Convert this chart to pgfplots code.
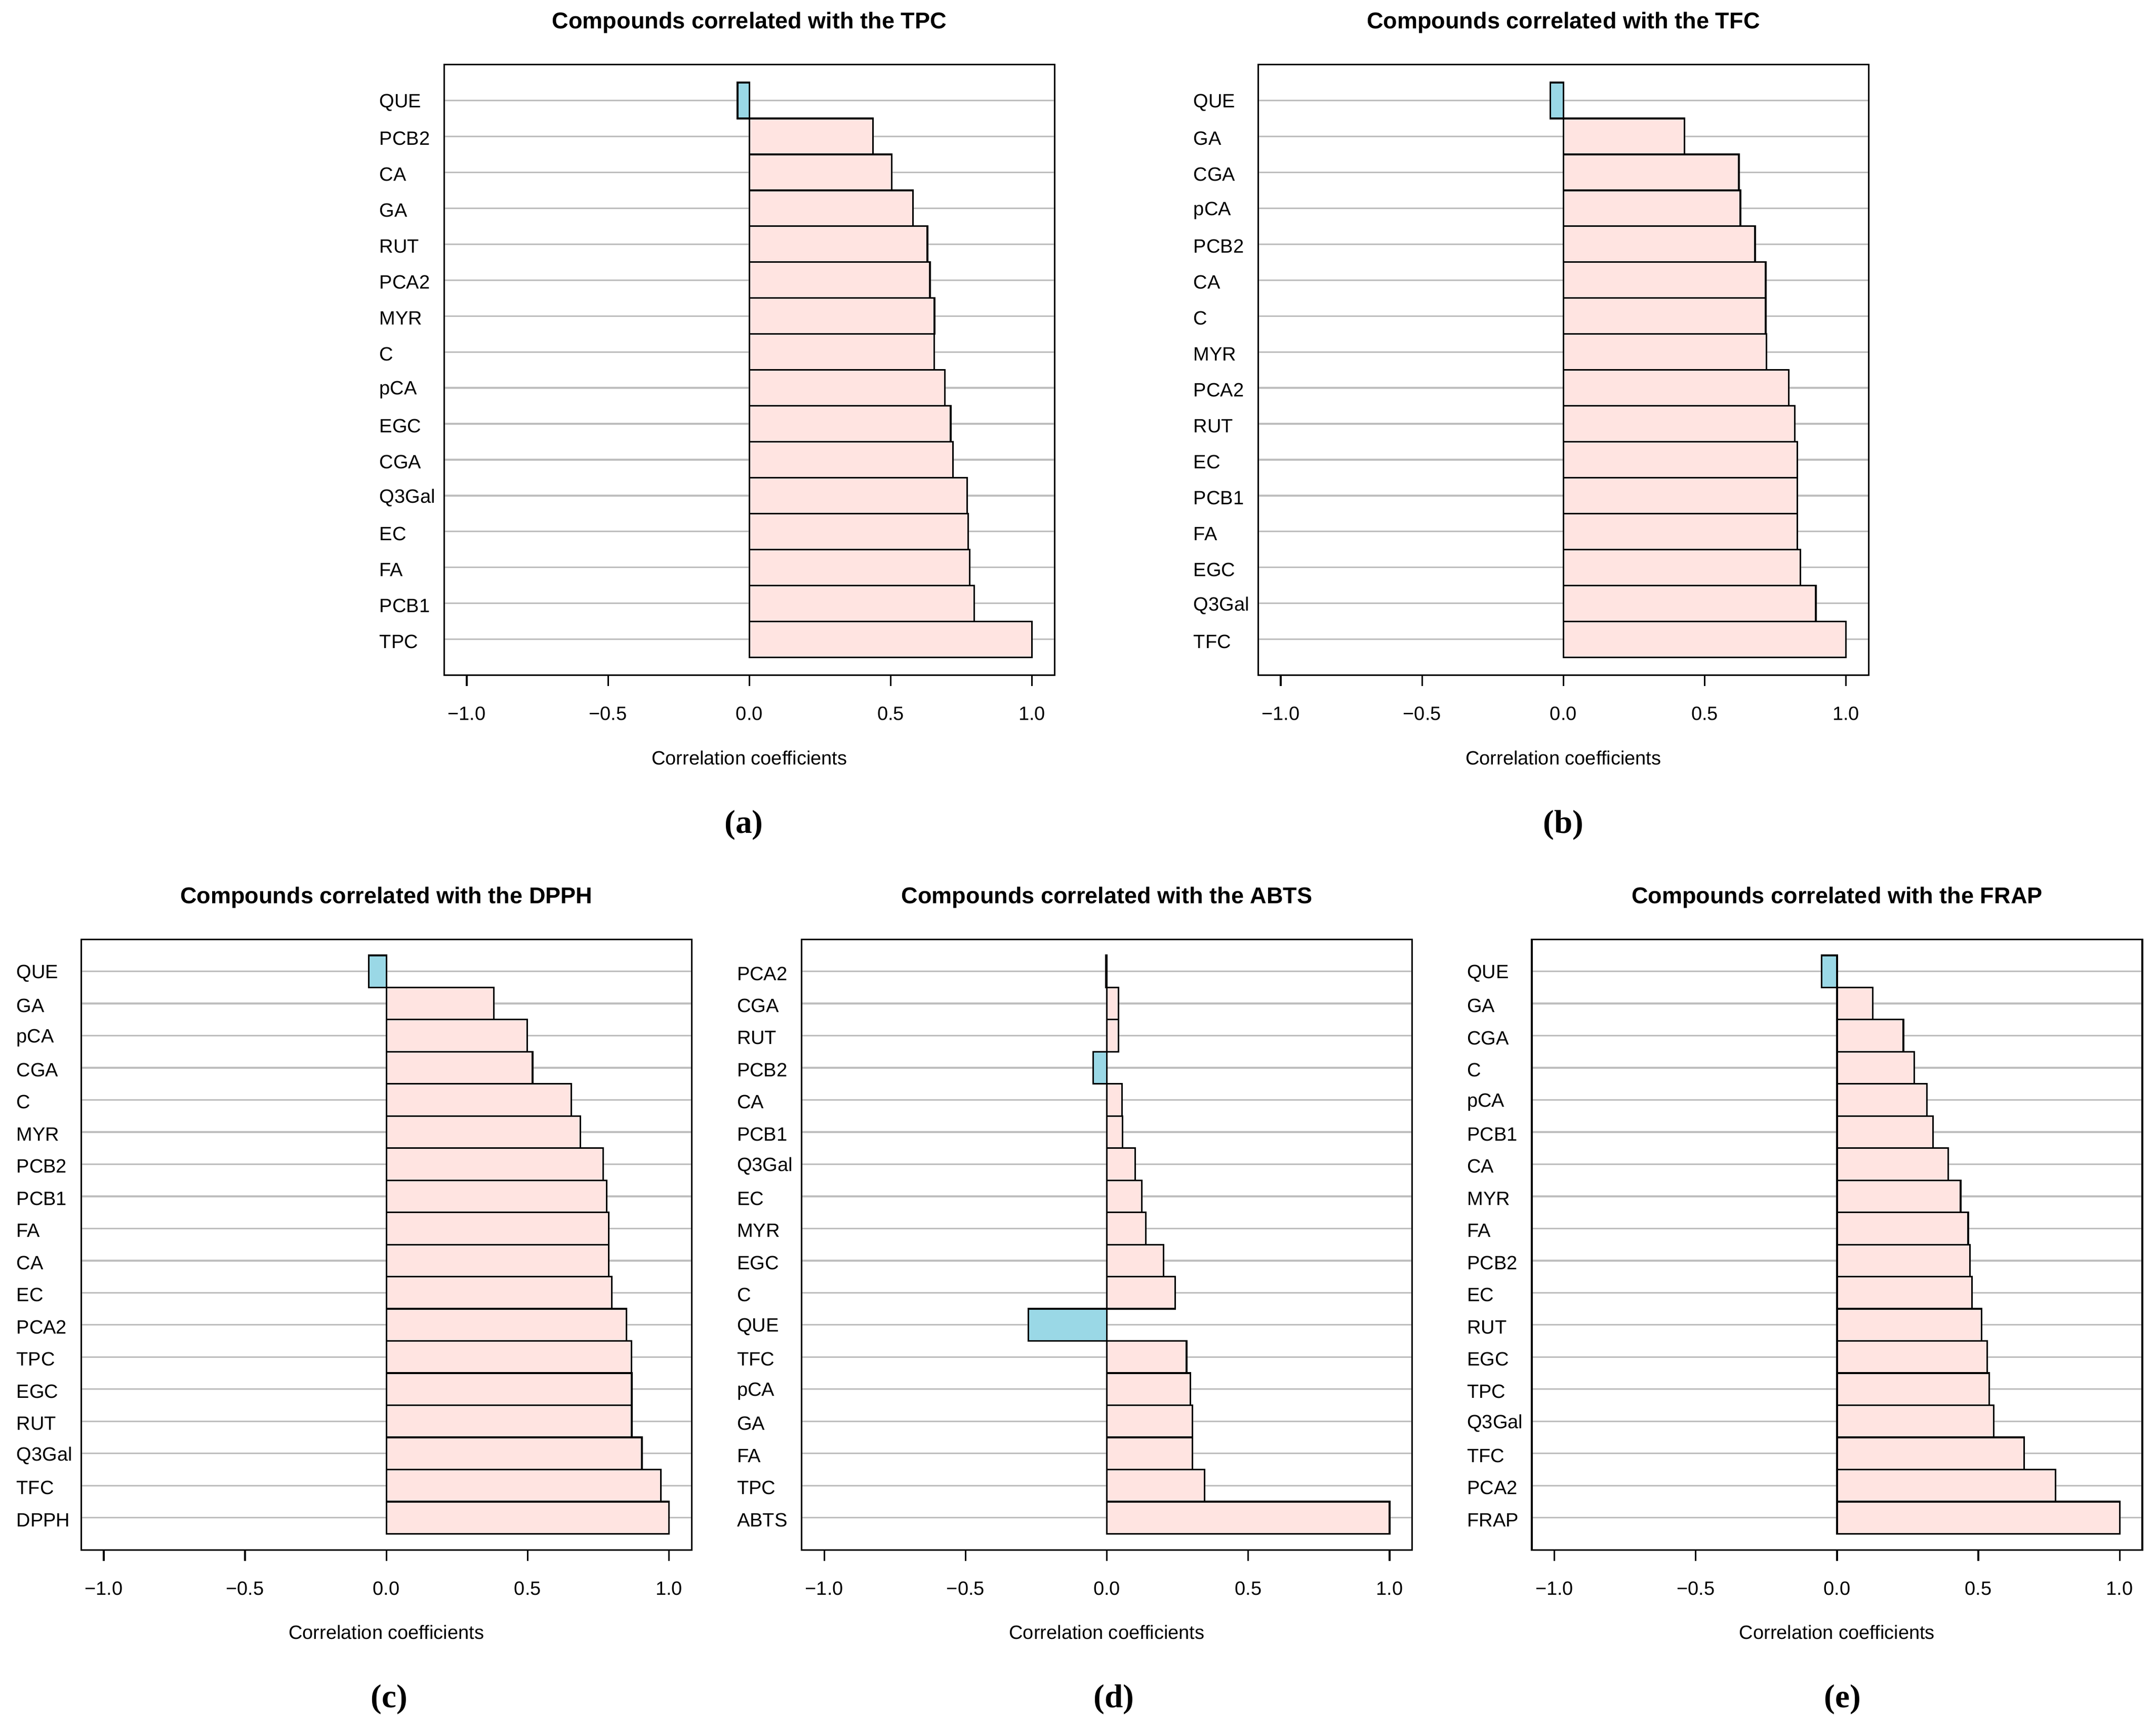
\documentclass[border=0pt]{standalone}
\usepackage{fontspec}
\setmainfont{Liberation Sans}
\newfontfamily\capfont{Liberation Serif}
\usepackage{pgfplots}
\pgfplotsset{compat=1.18}
\definecolor{pinkbar}{HTML}{FFE4E1}
\definecolor{bluebar}{HTML}{9AD8E6}
\definecolor{gridgray}{HTML}{BEBEBE}
\pgfplotsset{corrstyle/.style={
  scale only axis, width=222pt, height=222pt,
  xmin=-1.08, xmax=1.08, ymin=0,
  xtick={-1,-0.5,0,0.5,1},
  xticklabels={−1.0,−0.5,0.0,0.5,1.0},
  tick align=outside, xtick pos=bottom, major tick length=4pt,
  ytick style={draw=none},
  ymajorgrids, grid style={gridgray, line width=0.6pt},
  axis line style={line width=0.6pt},
  xtick style={black, line width=0.6pt},
  ticklabel style={font=\fontsize{7}{8}\selectfont},
  xticklabel style={yshift=-4pt},
  yticklabel style={anchor=west, xshift=-23pt, yshift=-0.8pt},
  xbar, bar width=1, bar shift=0pt,
  xlabel={Correlation coefficients},
  xlabel style={font=\fontsize{7}{8}\selectfont, at={(axis description cs:0.5,0)}, anchor=base, yshift=-32.5pt},
  title style={font=\bfseries\fontsize{8.3}{10}\selectfont, at={(axis description cs:0.5,1)}, anchor=base, yshift=7pt},
},
pos/.style={draw=black, line width=0.6pt, fill=pinkbar},
neg/.style={draw=black, line width=0.6pt, fill=bluebar}}
\begin{document}
\begin{tikzpicture}
\path[use as bounding box] (0,0) rectangle (784pt,628.5pt);
% (a)
\begin{axis}[corrstyle, at={(161.5pt,383pt)}, anchor=south west, ymax=17,
  title={Compounds correlated with the TPC},
  ytick={1,...,16},
  yticklabels={TPC,PCB1,FA,EC,Q3Gal,CGA,EGC,pCA,C,MYR,PCA2,RUT,GA,CA,PCB2,QUE}]
\addplot[pos] coordinates {(1.0,1) (0.795,2) (0.779,3) (0.774,4) (0.771,5) (0.720,6) (0.712,7) (0.691,8) (0.654,9) (0.655,10) (0.639,11) (0.630,12) (0.579,13) (0.503,14) (0.4375,15)};
\addplot[neg] coordinates {(-0.042,16)};
\end{axis}
% (b)
\begin{axis}[corrstyle, at={(457.5pt,383pt)}, anchor=south west, ymax=17,
  title={Compounds correlated with the TFC},
  ytick={1,...,16},
  yticklabels={TFC,Q3Gal,EGC,FA,PCB1,EC,RUT,PCA2,MYR,C,CA,PCB2,pCA,CGA,GA,QUE}]
\addplot[pos] coordinates {(1.0,1) (0.893,2) (0.838,3) (0.828,4) (0.828,5) (0.828,6) (0.819,7) (0.797,8) (0.719,9) (0.716,10) (0.716,11) (0.678,12) (0.626,13) (0.621,14) (0.428,15)};
\addplot[neg] coordinates {(-0.046,16)};
\end{axis}
% (c)
\begin{axis}[corrstyle, at={(29.5pt,65pt)}, anchor=south west, ymax=19,
  title={Compounds correlated with the DPPH},
  ytick={1,...,18},
  yticklabels={DPPH,TFC,Q3Gal,RUT,EGC,TPC,PCA2,EC,CA,FA,PCB1,PCB2,MYR,C,CGA,pCA,GA,QUE}]
\addplot[pos] coordinates {(1.0,1) (0.971,2) (0.904,3) (0.868,4) (0.868,5) (0.867,6) (0.849,7) (0.797,8) (0.787,9) (0.787,10) (0.780,11) (0.767,12) (0.686,13) (0.654,14) (0.517,15) (0.498,16) (0.380,17)};
\addplot[neg] coordinates {(-0.062,18)};
\end{axis}
% (d)
\begin{axis}[corrstyle, at={(291.5pt,65pt)}, anchor=south west, ymax=19,
  title={Compounds correlated with the ABTS},
  ytick={1,...,18},
  yticklabels={ABTS,TPC,FA,GA,pCA,TFC,QUE,C,EGC,MYR,EC,Q3Gal,PCB1,CA,PCB2,RUT,CGA,PCA2}]
\addplot[pos] coordinates {(1.0,1) (0.346,2) (0.302,3) (0.302,4) (0.295,5) (0.282,6) (0.242,8) (0.200,9) (0.138,10) (0.123,11) (0.100,12) (0.055,13) (0.054,14) (0.041,16) (0.041,17)};
\addplot[neg] coordinates {(-0.278,7) (-0.049,15) (-0.004,18)};
\end{axis}
% (e)
\begin{axis}[corrstyle, at={(557pt,65pt)}, anchor=south west, ymax=19,
  title={Compounds correlated with the FRAP},
  ytick={1,...,18},
  yticklabels={FRAP,PCA2,TFC,Q3Gal,TPC,EGC,RUT,EC,PCB2,FA,MYR,CA,PCB1,pCA,C,CGA,GA,QUE}]
\addplot[pos] coordinates {(1.0,1) (0.773,2) (0.662,3) (0.554,4) (0.539,5) (0.531,6) (0.511,7) (0.477,8) (0.471,9) (0.464,10) (0.437,11) (0.394,12) (0.339,13) (0.318,14) (0.274,15) (0.235,16) (0.127,17)};
\addplot[neg] coordinates {(-0.054,18)};
\end{axis}
\node[font=\capfont\bfseries\fontsize{12}{14}\selectfont] at (270.5pt,328.5pt) {(a)};
\node[font=\capfont\bfseries\fontsize{12}{14}\selectfont] at (568.5pt,328.5pt) {(b)};
\node[font=\capfont\bfseries\fontsize{12}{14}\selectfont] at (141.5pt,10.5pt) {(c)};
\node[font=\capfont\bfseries\fontsize{12}{14}\selectfont] at (405pt,10.5pt) {(d)};
\node[font=\capfont\bfseries\fontsize{12}{14}\selectfont] at (670pt,10.5pt) {(e)};
\end{tikzpicture}
\end{document}
